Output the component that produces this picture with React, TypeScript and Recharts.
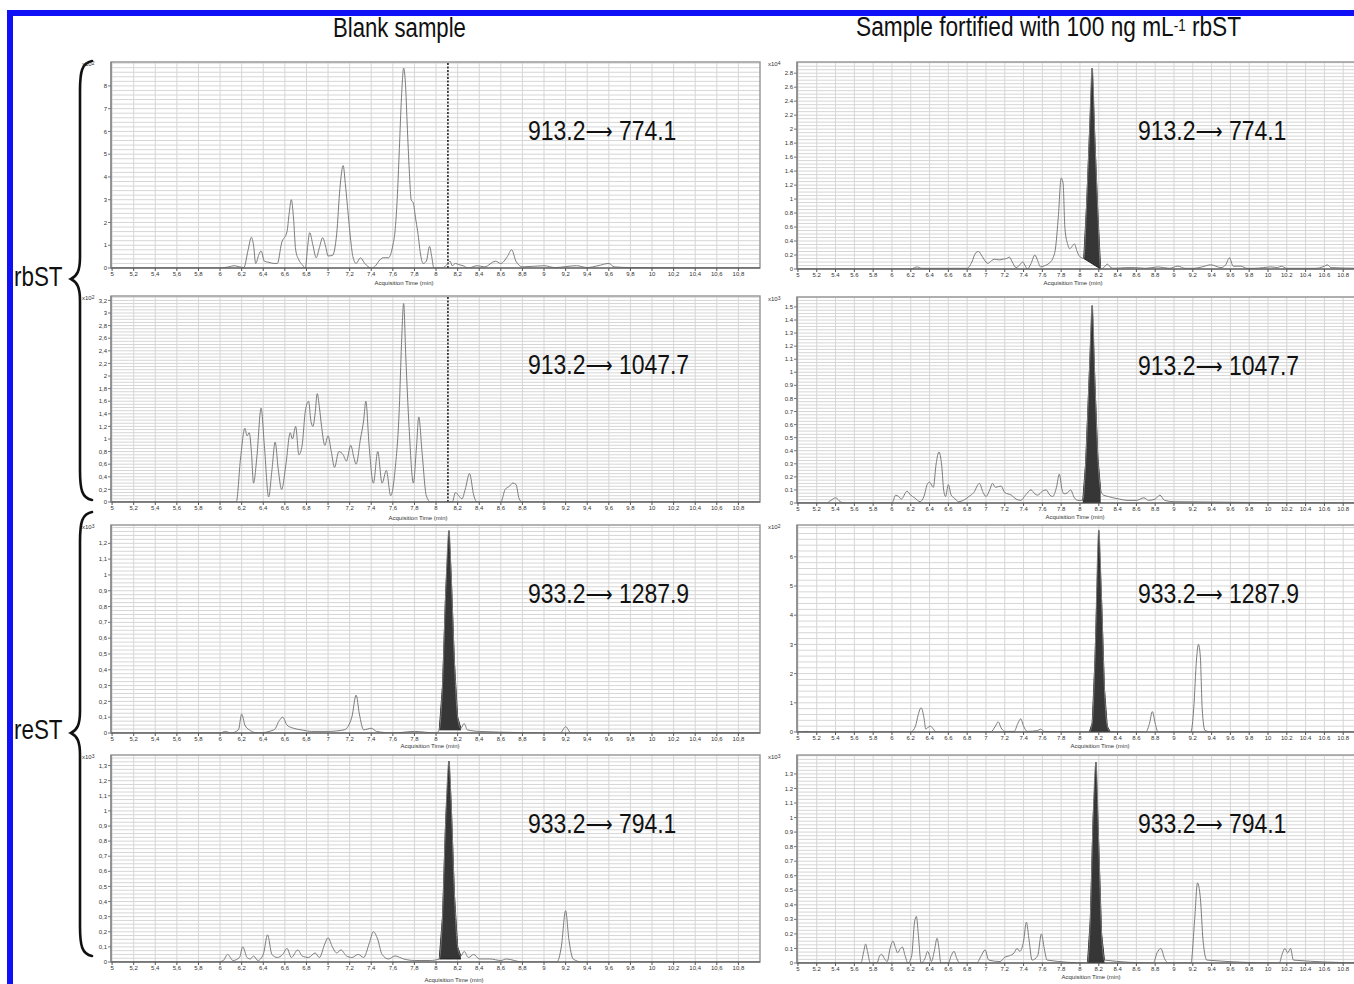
import React from 'react';
import { ComposedChart, Line, Area, XAxis, YAxis, ReferenceLine, ReferenceArea, CartesianGrid } from 'recharts';

// ---------- labels ----------
const columnTitles = ['Blank sample', 'Sample fortified with 100 ng mL', '-1', ' rbST'];
const analyteLabels = ['rbST', 'reST'];
const transitions = ['913.2\u27F6 774.1', '913.2\u27F6 1047.7', '933.2\u27F6 1287.9', '933.2\u27F6 794.1'];
const xAxisTitle = 'Acquisition Time (min)';
const X_TICKS = [5, 5.2, 5.4, 5.6, 5.8, 6, 6.2, 6.4, 6.6, 6.8, 7, 7.2, 7.4, 7.6, 7.8, 8, 8.2, 8.4, 8.6, 8.8, 9, 9.2, 9.4, 9.6, 9.8, 10, 10.2, 10.4, 10.6, 10.8];

// ---------- Panel 1: blank, 913.2 -> 774.1 (x10^2) ----------
const p1Times = [5, 6.0, 6.08, 6.13, 6.18, 6.22, 6.26, 6.29, 6.31, 6.33, 6.36, 6.38, 6.41, 6.45, 6.5, 6.53, 6.57, 6.62, 6.64, 6.66, 6.68, 6.7, 6.73, 6.76, 6.79, 6.81, 6.83, 6.86, 6.89, 6.92, 6.95, 6.98, 7.0, 7.04, 7.08, 7.11, 7.14, 7.16, 7.18, 7.21, 7.23, 7.26, 7.3, 7.34, 7.4, 7.44, 7.47, 7.51, 7.56, 7.6, 7.62, 7.64, 7.66, 7.68, 7.7, 7.72, 7.73, 7.75, 7.77, 7.79, 7.81, 7.83, 7.86, 7.88, 7.91, 7.94, 7.96, 7.98, 8.06, 8.1, 8.13, 8.15, 8.18, 8.21, 8.25, 8.3, 8.38, 8.45, 8.55, 8.6, 8.66, 8.7, 8.74, 8.8, 9.0, 9.1, 9.3, 9.4, 9.5, 9.6, 9.65, 9.8, 11];
const p1Values = [0, 0, 0.05, 0.1, 0.05, 0.02, 0.8, 1.35, 1.0, 0.2, 0.6, 0.75, 0.3, 0.25, 0.2, 0.2, 1.1, 1.6, 2.4, 3.0, 2.2, 0.8, 0.35, 0.15, 0.0, 0.9, 1.55, 1.0, 0.45, 0.9, 1.33, 0.9, 0.53, 0.55, 1.5, 3.5, 4.5, 3.7, 2.7, 1.2, 0.5, 0.2, 0.45, 0.2, 0.0, 0.1, 0.3, 0.45, 0.45, 1.0, 1.6, 3.0, 5.2, 7.5, 8.78, 7.8, 6.65, 4.5, 3.0, 2.85, 2.2, 1.6, 0.5, 0.2, 0.3, 0.95, 0.5, 0.0, 0.0, 0.15, 0.3, 0.1, 0.2, 0.15, 0.1, 0.0, 0.1, 0.05, 0.3, 0.2, 0.5, 0.8, 0.3, 0.05, 0.1, 0.02, 0.1, 0.02, 0.1, 0.2, 0.05, 0.02, 0];
const p1YTicks = [0, 1, 2, 3, 4, 5, 6, 7, 8];

// ---------- Panel 2: blank, 913.2 -> 1047.7 (x10^2) ----------
const p2Times = [5, 6.15, 6.19, 6.23, 6.25, 6.27, 6.29, 6.31, 6.34, 6.38, 6.41, 6.45, 6.48, 6.51, 6.54, 6.57, 6.61, 6.65, 6.67, 6.7, 6.73, 6.76, 6.79, 6.82, 6.84, 6.86, 6.88, 6.9, 6.92, 6.94, 6.97, 7.0, 7.03, 7.06, 7.1, 7.14, 7.17, 7.21, 7.24, 7.26, 7.3, 7.33, 7.35, 7.38, 7.42, 7.46, 7.5, 7.54, 7.58, 7.62, 7.66, 7.68, 7.7, 7.72, 7.75, 7.79, 7.82, 7.84, 7.87, 7.91, 7.95, 8.15, 8.18, 8.21, 8.24, 8.27, 8.31, 8.35, 8.38, 8.6, 8.64, 8.68, 8.71, 8.74, 8.77, 8.8, 11];
const p2Values = [0, 0, 0.7, 1.17, 1.05, 1.1, 0.8, 0.3, 0.7, 1.49, 0.9, 0.08, 0.5, 0.95, 0.5, 0.2, 0.6, 1.1, 1.0, 1.2, 0.75, 0.9, 1.45, 1.6, 1.3, 1.2, 1.4, 1.72, 1.5, 1.2, 0.9, 1.05, 0.8, 0.55, 0.8, 0.75, 0.65, 0.9, 0.7, 0.6, 1.0, 1.3, 1.6, 0.9, 0.3, 0.8, 0.3, 0.5, 0.1, 0.5, 1.5, 2.5, 3.15, 2.3, 1.2, 0.3, 0.9, 1.35, 0.8, 0.1, 0, 0, 0.15, 0.1, 0.05, 0.2, 0.45, 0.1, 0, 0, 0.2, 0.25, 0.3, 0.28, 0.05, 0, 0];
const p2YTicks = [0, 0.2, 0.4, 0.6, 0.8, 1, 1.2, 1.4, 1.6, 1.8, 2, 2.2, 2.4, 2.6, 2.8, 3, 3.2];

// ---------- Panel 3: blank, 933.2 -> 1287.9 (x10^3) ----------
const p3Times = [5, 6.0, 6.05, 6.1, 6.17, 6.2, 6.23, 6.27, 6.35, 6.5, 6.55, 6.58, 6.62, 6.68, 6.75, 6.85, 7.0, 7.15, 7.22, 7.26, 7.29, 7.33, 7.4, 7.45, 7.6, 7.8, 8.0, 8.03, 8.06, 8.09, 8.12, 8.14, 8.17, 8.2, 8.23, 8.26, 8.29, 8.4, 9.15, 9.2, 9.25, 11];
const p3Values = [0, 0, 0.01, 0, 0.02, 0.12, 0.05, 0.02, 0, 0.02, 0.08, 0.1, 0.05, 0.03, 0.02, 0.01, 0.01, 0.02, 0.1, 0.24, 0.12, 0.02, 0.03, 0.01, 0, 0.01, 0, 0.02, 0.3, 0.9, 1.28, 1.0, 0.45, 0.1, 0.03, 0.06, 0.02, 0.01, 0, 0.04, 0, 0];
const p3PeakTimes = [8.03, 8.06, 8.09, 8.12, 8.14, 8.17, 8.2, 8.23];
const p3PeakTop = [0.02, 0.3, 0.9, 1.28, 1.0, 0.45, 0.1, 0.03];
const p3PeakBase = [0.02, 0.02, 0.02, 0.02, 0.02, 0.02, 0.02, 0.02];
const p3YTicks = [0, 0.1, 0.2, 0.3, 0.4, 0.5, 0.6, 0.7, 0.8, 0.9, 1, 1.1, 1.2];

// ---------- Panel 4: blank, 933.2 -> 794.1 (x10^3) ----------
const p4Times = [5, 5.98, 6.03, 6.07, 6.12, 6.18, 6.21, 6.25, 6.28, 6.31, 6.35, 6.4, 6.44, 6.48, 6.53, 6.58, 6.62, 6.66, 6.72, 6.76, 6.82, 6.88, 6.92, 6.97, 7.0, 7.04, 7.08, 7.12, 7.17, 7.22, 7.28, 7.33, 7.38, 7.42, 7.46, 7.5, 7.56, 7.62, 7.7, 7.8, 7.95, 8.03, 8.06, 8.09, 8.12, 8.14, 8.17, 8.2, 8.23, 8.26, 8.3, 8.35, 8.4, 8.5, 8.6, 8.65, 8.8, 9.12, 9.16, 9.2, 9.23, 9.27, 9.35, 11];
const p4Values = [0, 0, 0.01, 0.05, 0.01, 0.03, 0.1, 0.03, 0.02, 0.04, 0.01, 0.05, 0.18, 0.05, 0.03, 0.05, 0.09, 0.03, 0.08, 0.04, 0.03, 0.06, 0.03, 0.12, 0.16, 0.1, 0.06, 0.08, 0.04, 0.03, 0.05, 0.03, 0.12, 0.2, 0.15, 0.05, 0.02, 0.04, 0.02, 0.01, 0.01, 0.02, 0.3, 0.95, 1.33, 1.05, 0.45, 0.1, 0.04, 0.07, 0.03, 0.05, 0.02, 0.02, 0.01, 0.02, 0, 0, 0.1, 0.34, 0.15, 0.02, 0, 0];
const p4PeakTimes = [8.03, 8.06, 8.09, 8.12, 8.14, 8.17, 8.2, 8.23];
const p4PeakTop = [0.02, 0.3, 0.95, 1.33, 1.05, 0.45, 0.1, 0.04];
const p4PeakBase = [0.02, 0.02, 0.02, 0.02, 0.02, 0.02, 0.02, 0.02];
const p4YTicks = [0, 0.1, 0.2, 0.3, 0.4, 0.5, 0.6, 0.7, 0.8, 0.9, 1, 1.1, 1.2, 1.3];

// ---------- Panel 5: fortified, 913.2 -> 774.1 (x10^4) ----------
const p5Times = [5, 6.2, 6.24, 6.27, 6.31, 6.5, 6.7, 6.8, 6.85, 6.89, 6.92, 6.96, 7.0, 7.02, 7.06, 7.09, 7.14, 7.18, 7.22, 7.25, 7.28, 7.32, 7.36, 7.39, 7.42, 7.44, 7.48, 7.52, 7.55, 7.58, 7.63, 7.67, 7.71, 7.74, 7.77, 7.8, 7.82, 7.84, 7.87, 7.89, 7.92, 7.94, 7.97, 7.99, 8.02, 8.04, 8.07, 8.1, 8.13, 8.16, 8.19, 8.22, 8.26, 8.29, 8.33, 8.36, 8.5, 8.58, 8.7, 8.83, 8.95, 9.04, 9.12, 9.21, 9.3, 9.39, 9.5, 9.55, 9.59, 9.63, 9.71, 9.78, 9.85, 9.95, 10.03, 10.1, 10.14, 10.2, 10.5, 10.6, 10.63, 10.67, 11];
const p5Values = [0, 0, 0.02, 0.03, 0.01, 0.01, 0.01, 0.01, 0.1, 0.23, 0.25, 0.18, 0.1, 0.08, 0.12, 0.14, 0.13, 0.14, 0.15, 0.17, 0.1, 0.02, 0.06, 0.1, 0.04, 0.0, 0.08, 0.2, 0.12, 0.03, 0.05, 0.08, 0.15, 0.3, 0.75, 1.3, 1.23, 0.58, 0.35, 0.29, 0.33, 0.36, 0.25, 0.19, 0.16, 0.15, 0.9, 1.9, 2.87, 1.8, 0.8, 0.0, 0.03, 0.07, 0.02, 0.01, 0.02, 0.02, 0.01, 0.03, 0.01, 0.04, 0.01, 0.01, 0.03, 0.06, 0.02, 0.06, 0.16, 0.04, 0.04, 0.01, 0.01, 0.02, 0.03, 0.02, 0.04, 0.01, 0.01, 0.04, 0.06, 0.02, 0.01];
const p5PeakTimes = [8.04, 8.07, 8.1, 8.13, 8.16, 8.19, 8.22];
const p5PeakTop = [0.15, 0.9, 1.9, 2.87, 1.8, 0.8, 0.0];
const p5PeakBase = [0.15, 0.125, 0.1, 0.075, 0.05, 0.025, 0.0];
const p5YTicks = [0, 0.2, 0.4, 0.6, 0.8, 1, 1.2, 1.4, 1.6, 1.8, 2, 2.2, 2.4, 2.6, 2.8];

// ---------- Panel 6: fortified, 913.2 -> 1047.7 (x10^3) ----------
const p6Times = [5, 5.3, 5.35, 5.4, 5.45, 5.5, 6.0, 6.04, 6.07, 6.1, 6.16, 6.2, 6.24, 6.3, 6.34, 6.38, 6.4, 6.44, 6.47, 6.5, 6.53, 6.55, 6.57, 6.6, 6.63, 6.66, 6.71, 6.76, 6.82, 6.87, 6.93, 6.97, 7.0, 7.04, 7.07, 7.1, 7.16, 7.2, 7.27, 7.32, 7.37, 7.42, 7.48, 7.52, 7.55, 7.6, 7.64, 7.68, 7.71, 7.75, 7.78, 7.81, 7.83, 7.87, 7.9, 7.94, 7.98, 8.03, 8.06, 8.1, 8.13, 8.16, 8.19, 8.22, 8.25, 8.3, 8.35, 8.42, 8.5, 8.6, 8.68, 8.73, 8.8, 8.85, 8.9, 9.0, 11];
const p6Values = [0, 0, 0.02, 0.04, 0.01, 0, 0, 0.06, 0.05, 0.03, 0.09, 0.06, 0.04, 0.01, 0.05, 0.15, 0.16, 0.12, 0.3, 0.39, 0.28, 0.1, 0.05, 0.14, 0.06, 0.04, 0.01, 0.02, 0.05, 0.08, 0.15, 0.08, 0.05, 0.1, 0.15, 0.12, 0.13, 0.08, 0.06, 0.03, 0.02, 0.06, 0.1, 0.07, 0.06, 0.09, 0.1, 0.06, 0.05, 0.12, 0.22, 0.1, 0.07, 0.08, 0.1, 0.04, 0.02, 0.02, 0.3, 1.0, 1.51, 0.9, 0.35, 0.1, 0.06, 0.05, 0.04, 0.03, 0.02, 0.02, 0.04, 0.02, 0.03, 0.06, 0.02, 0.01, 0];
const p6PeakTimes = [8.03, 8.06, 8.1, 8.13, 8.16, 8.19, 8.22];
const p6PeakTop = [0.02, 0.3, 1.0, 1.51, 0.9, 0.35, 0.1];
const p6PeakBase = [0.0, 0.0, 0.0, 0.0, 0.0, 0.0, 0.0];
const p6YTicks = [0, 0.1, 0.2, 0.3, 0.4, 0.5, 0.6, 0.7, 0.8, 0.9, 1, 1.1, 1.2, 1.3, 1.4, 1.5];

// ---------- Panel 7: fortified, 933.2 -> 1287.9 (x10^2) ----------
const p7Times = [5, 5.1, 5.15, 6.2, 6.25, 6.28, 6.31, 6.34, 6.36, 6.38, 6.41, 6.44, 6.47, 7.05, 7.1, 7.13, 7.16, 7.2, 7.3, 7.34, 7.37, 7.4, 7.44, 7.55, 7.58, 7.62, 8.1, 8.13, 8.16, 8.2, 8.23, 8.26, 8.29, 8.32, 8.7, 8.74, 8.77, 8.8, 8.83, 9.18, 9.21, 9.24, 9.26, 9.28, 9.3, 9.33, 9.4, 11];
const p7Values = [0, 0.02, 0, 0, 0.2, 0.6, 0.83, 0.5, 0.1, 0.15, 0.2, 0.1, 0, 0, 0.2, 0.35, 0.15, 0.02, 0.02, 0.3, 0.45, 0.2, 0.02, 0.05, 0.1, 0.02, 0, 0.3, 2.5, 6.9, 4.5, 1.5, 0.2, 0.02, 0, 0.3, 0.7, 0.3, 0, 0, 0.8, 2.5, 3.0, 2.6, 0.8, 0.05, 0, 0];
const p7PeakTimes = [8.1, 8.13, 8.16, 8.2, 8.23, 8.26, 8.29, 8.32];
const p7PeakTop = [0, 0.3, 2.5, 6.9, 4.5, 1.5, 0.2, 0.02];
const p7PeakBase = [0, 0, 0, 0, 0, 0, 0, 0];
const p7YTicks = [0, 1, 2, 3, 4, 5, 6];

// ---------- Panel 8: fortified, 933.2 -> 794.1 (x10^3) ----------
const p8Times = [5, 5.67, 5.7, 5.72, 5.74, 5.77, 5.84, 5.87, 5.89, 5.92, 5.95, 5.98, 6.01, 6.04, 6.06, 6.09, 6.11, 6.14, 6.17, 6.21, 6.24, 6.26, 6.28, 6.31, 6.35, 6.38, 6.4, 6.42, 6.45, 6.48, 6.5, 6.52, 6.6, 6.63, 6.66, 6.69, 6.72, 6.9, 6.95, 6.99, 7.03, 7.15, 7.2, 7.25, 7.3, 7.33, 7.36, 7.4, 7.43, 7.46, 7.49, 7.55, 7.59, 7.62, 7.65, 8.08, 8.11, 8.14, 8.17, 8.2, 8.23, 8.26, 8.78, 8.82, 8.86, 8.9, 8.94, 9.18, 9.22, 9.25, 9.28, 9.31, 9.35, 10.12, 10.15, 10.18, 10.21, 10.24, 10.27, 11];
const p8Values = [0, 0, 0.08, 0.13, 0.08, 0.0, 0, 0.05, 0.06, 0.03, 0.01, 0.1, 0.15, 0.1, 0.07, 0.1, 0.11, 0.05, 0, 0.05, 0.28, 0.32, 0.2, 0, 0.03, 0.08, 0.05, 0.01, 0.08, 0.17, 0.1, 0, 0, 0.05, 0.08, 0.03, 0, 0, 0.05, 0.09, 0.02, 0.01, 0.04, 0.05, 0.07, 0.1, 0.08, 0.15, 0.28, 0.15, 0.02, 0.05, 0.2, 0.1, 0.02, 0, 0.3, 1.0, 1.38, 0.8, 0.2, 0.02, 0, 0.07, 0.1, 0.03, 0, 0, 0.3, 0.55, 0.45, 0.15, 0.02, 0, 0.06, 0.1, 0.07, 0.1, 0.02, 0];
const p8PeakTimes = [8.08, 8.11, 8.14, 8.17, 8.2, 8.23, 8.26];
const p8PeakTop = [0, 0.3, 1.0, 1.38, 0.8, 0.2, 0.02];
const p8PeakBase = [0, 0, 0, 0, 0, 0, 0];
const p8YTicks = [0, 0.1, 0.2, 0.3, 0.4, 0.5, 0.6, 0.7, 0.8, 0.9, 1, 1.1, 1.2, 1.3];

const FONT = "'Liberation Sans', Arial, sans-serif";
const X_MIN = 4.99;
const X_MAX = 11;

type PanelProps = {
  left: number; top: number; plotW: number; plotH: number;
  yMax: number; yTicks: number[]; minorStep: number; comma: boolean;
  times: number[]; values: number[];
  peakTimes?: number[]; peakTop?: number[]; peakBase?: number[];
  marker?: number; exp: string; transition: string; labelX: number; labelY: number;
  textLeft: number;
};

function fmt(v: number, comma: boolean) {
  const s = Number.isInteger(v) ? String(v) : v.toFixed(1);
  return comma ? s.replace('.', ',') : s;
}

function Transition({ text }: { text: string }) {
  const [a, b] = text.split('\u27F6');
  return (
    <>
      {a}
      <span style={{ fontFamily: "'DejaVu Sans', sans-serif", fontSize: 23, position: 'relative', top: -1 }}>{'\u27F6'}</span>
      {b}
    </>
  );
}

function Panel(p: PanelProps) {
  const line = p.times.map((t, i) => ({ t, v: p.values[i] }));
  const peak = p.peakTimes ? p.peakTimes.map((t, i) => ({ t, r: [p.peakBase![i], p.peakTop![i]] })) : null;
  const w = 30 + p.plotW + 2;
  const h = p.plotH + 22;
  const minor: number[] = [];
  for (let k = 1; k * p.minorStep < p.yMax; k++) minor.push(+(k * p.minorStep).toFixed(4));
  return (
    <>
      <div style={{ position: 'absolute', left: p.left - 30, top: p.top - 2 }}>
        <ComposedChart width={w} height={h} margin={{ top: 2, right: 2, bottom: 0, left: 0 }}>
          <CartesianGrid horizontalValues={minor} verticalValues={X_TICKS} stroke="#d6d6d6" strokeDasharray="" />
          <XAxis type="number" dataKey="t" domain={[X_MIN, X_MAX]} ticks={X_TICKS} interval={0} allowDataOverflow
            height={20} tickSize={3} tickMargin={1} stroke="#555"
            tick={{ fontSize: 6, fill: '#333', fontFamily: FONT }} tickFormatter={(v: number) => fmt(v, p.comma)} />
          <YAxis type="number" domain={[0, p.yMax]} ticks={p.yTicks} interval={0} allowDataOverflow width={30}
            tickSize={3} tickMargin={1} stroke="#777"
            tick={{ fontSize: 6, fill: '#333', fontFamily: FONT }} tickFormatter={(v: number) => fmt(v, p.comma)} />
          <ReferenceArea x1={X_MIN} x2={X_MAX} y1={0} y2={p.yMax} fill="none" stroke="#9a9a9a" strokeWidth={1.5} />
          {p.marker !== undefined && (
            <ReferenceLine x={p.marker} stroke="#222" strokeDasharray="2 1.5" strokeWidth={1.6} />
          )}
          {peak && (
            <Area data={peak} dataKey="r" type="linear" fill="#363636" fillOpacity={1} stroke="#222" strokeWidth={1}
              isAnimationActive={false} dot={false} activeDot={false} />
          )}
          <Line data={line} dataKey="v" type="monotone" stroke="#7c7c7c" strokeWidth={1} dot={false}
            activeDot={false} isAnimationActive={false} />
        </ComposedChart>
      </div>
      <div style={{ position: 'absolute', left: p.left - 29, top: p.top - 1, fontSize: 6, fontFamily: FONT, color: '#333', lineHeight: '6px' }}>
        x10<sup style={{ fontSize: 5, verticalAlign: 'top', position: 'relative', top: -1 }}>{p.exp}</sup>
      </div>
      <div style={{ position: 'absolute', left: p.labelX - 60, width: 120, top: p.labelY - 3, textAlign: 'center', fontSize: 6, fontFamily: FONT, color: '#333', lineHeight: '6px' }}>
        {xAxisTitle}
      </div>
      <div style={{ position: 'absolute', left: p.textLeft, top: p.top + 55, fontSize: 28, lineHeight: '28px', fontFamily: FONT, color: '#111', transform: 'scaleX(0.82)', transformOrigin: 'left top', whiteSpace: 'nowrap' }}>
        <Transition text={p.transition} />
      </div>
    </>
  );
}

function Brace({ y1, y2, ym }: { y1: number; y2: number; ym: number }) {
  const d = `M 92 ${y1} C 82 ${y1 + 2}, 80 ${y1 + 10}, 80 ${y1 + 30} L 80 ${ym - 22} C 80 ${ym - 8}, 77 ${ym - 3}, 71 ${ym} C 77 ${ym + 3}, 80 ${ym + 8}, 80 ${ym + 22} L 80 ${y2 - 30} C 80 ${y2 - 10}, 82 ${y2 - 2}, 92 ${y2}`;
  return <path d={d} fill="none" stroke="#111" strokeWidth={2.6} strokeLinecap="round" />;
}

export default function App() {
  const L = 111, R = 797, LW = 649, RW = 565;
  return (
    <div style={{ position: 'absolute', left: 0, top: 0, width: 1354, height: 984, overflow: 'hidden', background: '#fff' }}>
      <div style={{ position: 'absolute', left: 7, top: 10, width: 1500, height: 1200, border: '6px solid #1010f6', boxSizing: 'border-box' }} />
      <div style={{ position: 'absolute', left: 333, top: 15, fontSize: 27, lineHeight: '27px', fontFamily: FONT, color: '#111', transform: 'scaleX(0.82)', transformOrigin: 'left top', whiteSpace: 'nowrap' }}>
        {columnTitles[0]}
      </div>
      <div style={{ position: 'absolute', left: 856, top: 14, fontSize: 27, lineHeight: '27px', fontFamily: FONT, color: '#111', transform: 'scaleX(0.84)', transformOrigin: 'left top', whiteSpace: 'nowrap' }}>
        {columnTitles[1]}<sup style={{ fontSize: 16, verticalAlign: 'top', position: 'relative', top: -2 }}>{columnTitles[2]}</sup>{columnTitles[3]}
      </div>
      <div style={{ position: 'absolute', left: 14, top: 263, fontSize: 28, lineHeight: '28px', fontFamily: FONT, color: '#111', transform: 'scaleX(0.8)', transformOrigin: 'left top' }}>
        {analyteLabels[0]}
      </div>
      <div style={{ position: 'absolute', left: 14, top: 716, fontSize: 28, lineHeight: '28px', fontFamily: FONT, color: '#111', transform: 'scaleX(0.8)', transformOrigin: 'left top' }}>
        {analyteLabels[1]}
      </div>
      <svg style={{ position: 'absolute', left: 0, top: 0 }} width={110} height={984}>
        <Brace y1={61} y2={500} ym={279} />
        <Brace y1={512} y2={956} ym={733} />
      </svg>

      <Panel left={L} top={62} plotW={LW} plotH={206} yMax={9.05} yTicks={p1YTicks} minorStep={0.2} comma
        times={p1Times} values={p1Values} marker={8.11} exp="2" transition={transitions[0]} labelX={404} labelY={283} textLeft={528} />
      <Panel left={L} top={296} plotW={LW} plotH={206} yMax={3.27} yTicks={p2YTicks} minorStep={0.05} comma
        times={p2Times} values={p2Values} marker={8.11} exp="2" transition={transitions[1]} labelX={418} labelY={518} textLeft={528} />
      <Panel left={L} top={525} plotW={LW} plotH={208} yMax={1.316} yTicks={p3YTicks} minorStep={0.025} comma
        times={p3Times} values={p3Values} peakTimes={p3PeakTimes} peakTop={p3PeakTop} peakBase={p3PeakBase}
        exp="3" transition={transitions[2]} labelX={430} labelY={746} textLeft={528} />
      <Panel left={L} top={755} plotW={LW} plotH={207} yMax={1.37} yTicks={p4YTicks} minorStep={0.025} comma
        times={p4Times} values={p4Values} peakTimes={p4PeakTimes} peakTop={p4PeakTop} peakBase={p4PeakBase}
        exp="3" transition={transitions[3]} labelX={454} labelY={980} textLeft={528} />

      <Panel left={R} top={62} plotW={RW} plotH={207} yMax={2.96} yTicks={p5YTicks} minorStep={0.05} comma={false}
        times={p5Times} values={p5Values} peakTimes={p5PeakTimes} peakTop={p5PeakTop} peakBase={p5PeakBase}
        exp="4" transition={transitions[0]} labelX={1073} labelY={283} textLeft={1138} />
      <Panel left={R} top={297} plotW={RW} plotH={206} yMax={1.576} yTicks={p6YTicks} minorStep={0.025} comma={false}
        times={p6Times} values={p6Values} peakTimes={p6PeakTimes} peakTop={p6PeakTop} peakBase={p6PeakBase}
        exp="3" transition={transitions[1]} labelX={1075} labelY={517} textLeft={1138} />
      <Panel left={R} top={525} plotW={RW} plotH={207} yMax={7.09} yTicks={p7YTicks} minorStep={0.2} comma={false}
        times={p7Times} values={p7Values} peakTimes={p7PeakTimes} peakTop={p7PeakTop} peakBase={p7PeakBase}
        exp="2" transition={transitions[2]} labelX={1100} labelY={746} textLeft={1138} />
      <Panel left={R} top={755} plotW={RW} plotH={208} yMax={1.43} yTicks={p8YTicks} minorStep={0.025} comma={false}
        times={p8Times} values={p8Values} peakTimes={p8PeakTimes} peakTop={p8PeakTop} peakBase={p8PeakBase}
        exp="3" transition={transitions[3]} labelX={1091} labelY={977} textLeft={1138} />
    </div>
  );
}
